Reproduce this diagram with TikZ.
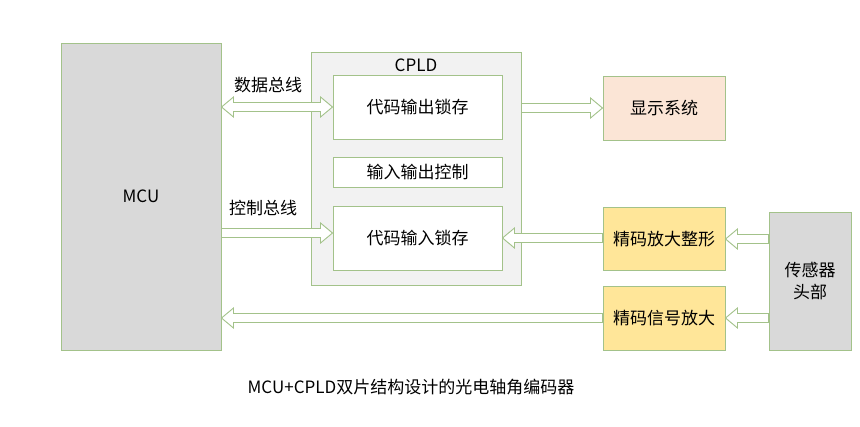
\documentclass[tikz,border=0pt]{standalone}
\usepackage{fontspec}
\setmainfont{Noto Sans CJK SC}
\usetikzlibrary{positioning, calc}

\definecolor{edgegreen}{HTML}{A3C28A}
\definecolor{mcugray}{HTML}{D9D9D9}
\definecolor{cpldgray}{HTML}{F2F2F2}
\definecolor{dispfill}{HTML}{FBE5D6}
\definecolor{ampfill}{HTML}{FFE699}

\tikzset{
  block/.style = {draw = edgegreen, line width = 1pt, fill = white, align = center,
                  inner sep = 0pt, font = \fontsize{17}{22}\selectfont},
  bus/.style   = {draw = edgegreen, fill = white, line width = 0.9pt, line join = miter},
  txt/.style   = {font = \fontsize{17}{22}\selectfont, inner sep = 0pt}
}

% hollow bus arrow, tip at #2, y taken from #2
\newcommand{\busarrow}[2]{%
  \draw[bus] let \p1 = (#1), \p2 = (#2), \n1 = {sign(\x2-\x1)} in
    (\x1,\y2+4.5pt) -- (\x2-\n1*12pt,\y2+4.5pt) -- (\x2-\n1*12pt,\y2+10pt) -- (\x2,\y2)
    -- (\x2-\n1*12pt,\y2-10pt) -- (\x2-\n1*12pt,\y2-4.5pt) -- (\x1,\y2-4.5pt) -- cycle;}
% same, with a tip at both ends
\newcommand{\busdarrow}[2]{%
  \draw[bus] let \p1 = (#1), \p2 = (#2), \n1 = {sign(\x2-\x1)} in
    (\x1,\y2) -- (\x1+\n1*12pt,\y2+10pt) -- (\x1+\n1*12pt,\y2+4.5pt)
    -- (\x2-\n1*12pt,\y2+4.5pt) -- (\x2-\n1*12pt,\y2+10pt) -- (\x2,\y2)
    -- (\x2-\n1*12pt,\y2-10pt) -- (\x2-\n1*12pt,\y2-4.5pt)
    -- (\x1+\n1*12pt,\y2-4.5pt) -- (\x1+\n1*12pt,\y2-10pt) -- cycle;}

\begin{document}
\begin{tikzpicture}[x = 1pt, y = -1pt, node distance = 80pt, on grid]
  \useasboundingbox (0,0) rectangle (860,426);

  \node[block, fill = mcugray, minimum width = 160pt, minimum height = 307pt] (mcu) at (141,196.5) {MCU};
  \node[block, fill = cpldgray, minimum width = 210pt, minimum height = 233pt] (cpld) at (416,168.5) {};
  \node[txt] (cpldlabel) at (416,65) {CPLD};
  \node[block, minimum width = 169pt, minimum height = 64pt] (outlatch) at (417.5,107) {代码输出锁存};
  \node[block, minimum width = 169pt, minimum height = 30pt] (ioctrl) at (417.5,172) {输入输出控制};
  \node[block, minimum width = 169pt, minimum height = 64pt] (inlatch) at (417.5,238) {代码输入锁存};
  \node[block, fill = dispfill, minimum width = 122pt, minimum height = 64pt] (disp) at (664,108) {显示系统};
  \node[block, fill = ampfill, minimum width = 122pt, minimum height = 63pt] (shape) at (664,239) {精码放大整形};
  \node[block, fill = ampfill, minimum width = 122pt, minimum height = 64pt] (amp) [below = 79pt of shape] {精码信号放大};
  \node[block, fill = mcugray, minimum width = 82pt, minimum height = 138pt] (sensor) at (810,281) {传感器\\头部};

  \node[txt] (dbus) at (268,85) {数据总线};
  \node[txt] (cbus) at (263,208) {控制总线};
  \node[txt] (caption) at (411,387) {MCU+CPLD双片结构设计的光电轴角编码器};

  \coordinate (ctrl) at ($(inlatch.west)+(0,-5)$);

  \busdarrow{mcu.east}{outlatch.west}
  \busarrow{mcu.east}{ctrl}
  \busarrow{cpld.east}{disp.west}
  \busarrow{shape.west}{inlatch.east}
  \busarrow{sensor.west}{shape.east}
  \busarrow{sensor.west}{amp.east}
  \busarrow{amp.west}{mcu.east |- amp.west}
\end{tikzpicture}
\end{document}
